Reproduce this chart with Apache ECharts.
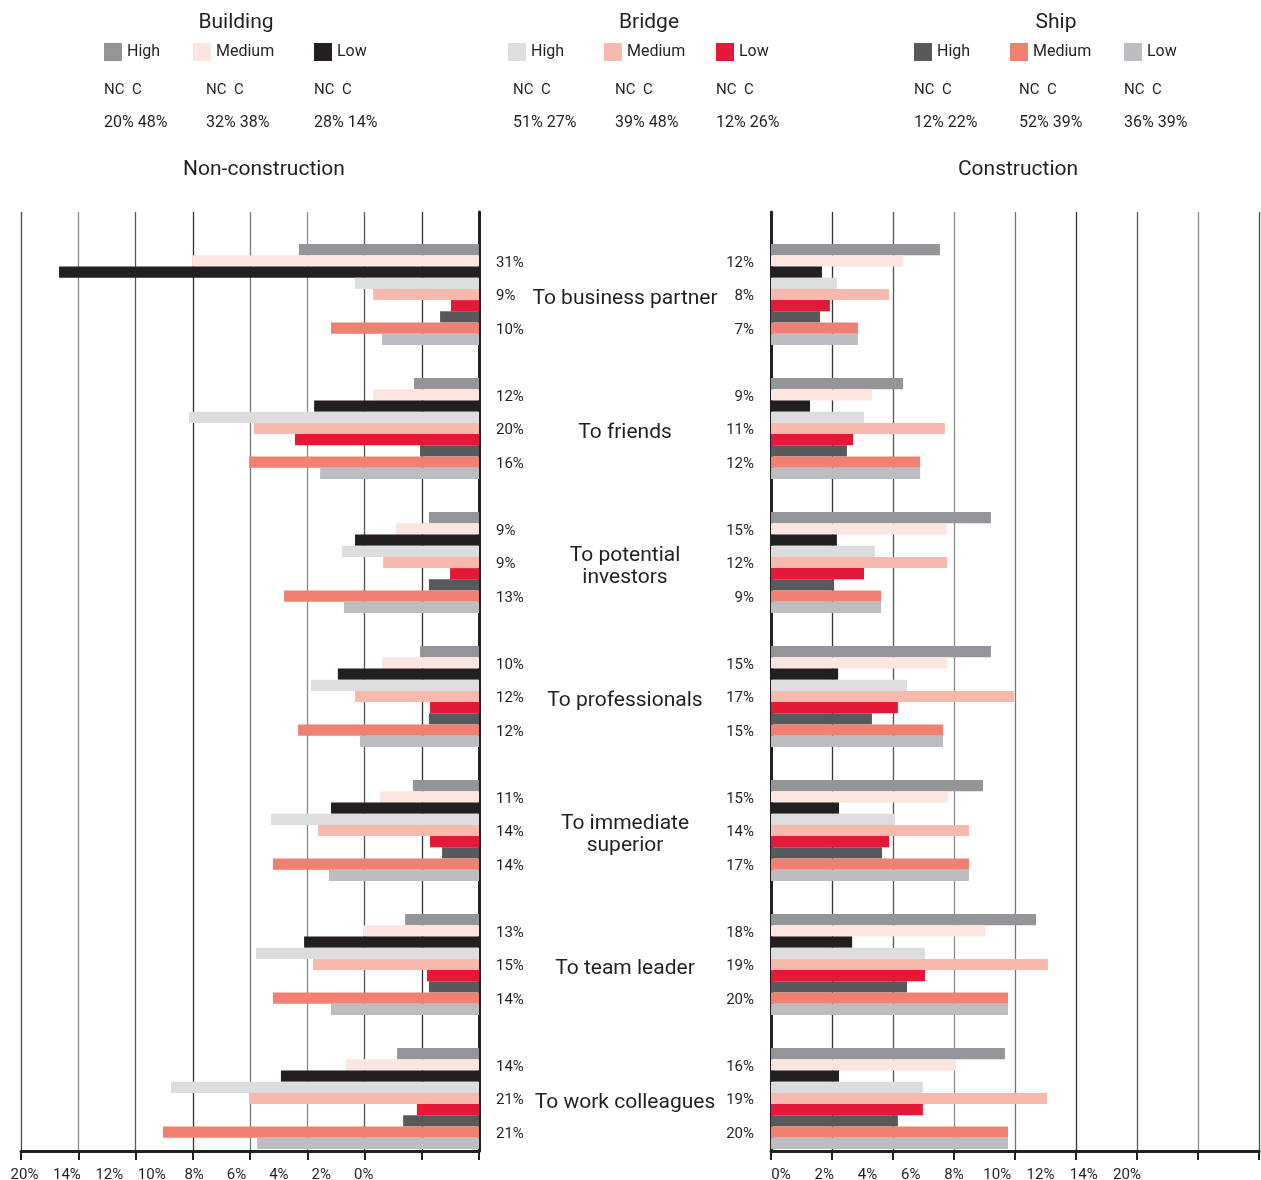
<!DOCTYPE html>
<html><head><meta charset="utf-8">
<script src="https://cdn.jsdelivr.net/npm/echarts@6/dist/echarts.min.js"></script>
<style>html,body{margin:0;padding:0;background:#fff}#c{width:1261px;height:1180px}</style>
</head><body><div id="c"></div>
<script>
// ---------- DATA ----------
const CATEGORIES = ['To business partner', 'To friends', 'To potential\ninvestors', 'To professionals',
  'To immediate\nsuperior', 'To team leader', 'To work colleagues'];
const VESSELS = ['Building', 'Bridge', 'Ship'];
const LEVELS = ['High', 'Medium', 'Low'];

// Non-construction (left panel)
const NC_BUILDING_HIGH   = [6.29, 2.27, 1.75, 2.06, 2.31, 2.58, 2.86];
const NC_BUILDING_MEDIUM = [10.0, 3.70, 2.90, 3.39, 3.46, 4.02, 4.65];
const NC_BUILDING_LOW    = [14.67, 5.76, 4.33, 4.93, 5.17, 6.11, 6.92];
const NC_BRIDGE_HIGH     = [4.33, 10.13, 4.79, 5.87, 7.27, 7.79, 10.76];
const NC_BRIDGE_MEDIUM   = [3.70, 7.86, 3.35, 4.33, 5.62, 5.80, 8.03];
const NC_BRIDGE_LOW      = [0.98, 6.43, 1.01, 1.71, 1.71, 1.82, 2.17];
const NC_SHIP_HIGH       = [1.36, 2.06, 1.75, 1.75, 1.29, 1.75, 2.65];
const NC_SHIP_MEDIUM     = [5.17, 8.03, 6.81, 6.32, 7.20, 7.20, 11.04];
const NC_SHIP_LOW        = [3.39, 5.55, 4.72, 4.16, 5.24, 5.17, 7.75];

// Construction (right panel)
const C_BUILDING_HIGH   = [5.54, 4.33, 7.21, 7.21, 6.95, 8.69, 7.67];
const C_BUILDING_MEDIUM = [4.33, 3.31, 5.77, 5.77, 5.80, 7.02, 6.07];
const C_BUILDING_LOW    = [1.67, 1.28, 2.16, 2.20, 2.23, 2.66, 2.23];
const C_BRIDGE_HIGH     = [2.16, 3.05, 3.41, 4.46, 4.07, 5.05, 4.98];
const C_BRIDGE_MEDIUM   = [3.87, 5.70, 5.77, 7.97, 6.49, 9.08, 9.05];
const C_BRIDGE_LOW      = [1.93, 2.69, 3.05, 4.16, 3.87, 5.05, 4.98];
const C_SHIP_HIGH       = [1.61, 2.49, 2.07, 3.31, 3.64, 4.46, 4.16];
const C_SHIP_MEDIUM     = [2.85, 4.89, 3.61, 5.64, 6.49, 7.77, 7.77];
const C_SHIP_LOW        = [2.85, 4.89, 3.61, 5.64, 6.49, 7.77, 7.77];

// Per-category totals printed beside the bars (Building / Bridge / Ship rows)
const NC_TOTAL_BUILDING = [31, 12, 9, 10, 11, 13, 14];
const NC_TOTAL_BRIDGE   = [9, 20, 9, 12, 14, 15, 21];
const NC_TOTAL_SHIP     = [10, 16, 13, 12, 14, 14, 21];
const C_TOTAL_BUILDING  = [12, 9, 15, 15, 15, 18, 16];
const C_TOTAL_BRIDGE    = [8, 11, 12, 17, 14, 19, 19];
const C_TOTAL_SHIP      = [7, 12, 9, 15, 17, 20, 20];

// Legend shares NC / C per vessel (High, Medium, Low)
const SHARE_NC_BUILDING = [20, 32, 28];
const SHARE_C_BUILDING  = [48, 38, 14];
const SHARE_NC_BRIDGE   = [51, 39, 12];
const SHARE_C_BRIDGE    = [27, 48, 26];
const SHARE_NC_SHIP     = [12, 52, 36];
const SHARE_C_SHIP      = [22, 39, 39];

// Axis tick labels (as printed)
const TICK_LABELS_NC = ['20%', '14%', '12%', '10%', '8%', '6%', '4%', '2%', '0%'];
const TICK_LABELS_C  = ['0%', '2%', '4%', '6%', '8%', '10%', '12%', '14%', '20%'];

// ---------- BUILD ----------
const NC_DATA = [NC_BUILDING_HIGH, NC_BUILDING_MEDIUM, NC_BUILDING_LOW, NC_BRIDGE_HIGH, NC_BRIDGE_MEDIUM, NC_BRIDGE_LOW, NC_SHIP_HIGH, NC_SHIP_MEDIUM, NC_SHIP_LOW];
const C_DATA = [C_BUILDING_HIGH, C_BUILDING_MEDIUM, C_BUILDING_LOW, C_BRIDGE_HIGH, C_BRIDGE_MEDIUM, C_BRIDGE_LOW, C_SHIP_HIGH, C_SHIP_MEDIUM, C_SHIP_LOW];
const NC_TOTALS = [NC_TOTAL_BUILDING, NC_TOTAL_BRIDGE, NC_TOTAL_SHIP];
const C_TOTALS = [C_TOTAL_BUILDING, C_TOTAL_BRIDGE, C_TOTAL_SHIP];
const SHARES_NC = [SHARE_NC_BUILDING, SHARE_NC_BRIDGE, SHARE_NC_SHIP];
const SHARES_C = [SHARE_C_BUILDING, SHARE_C_BRIDGE, SHARE_C_SHIP];

const COLORS = ['#939598', '#fce4df', '#231f20', '#dcddde', '#f7b9ab', '#e31937', '#58595b', '#ef8072', '#bcbdc0'];
const FONT = 'Roboto, "Liberation Sans", sans-serif';
const INK = '#231f20';

const GRID_TOP = 212, GRID_H = 939;
const BAR_TOP = 227.5, BAR_H = 938;
const L_LEFT = 21, L_W = 458, R_LEFT = 771, R_W = 488;

const frameX = (gi, inverse) => ({
  type: 'value', gridIndex: gi, min: 0, max: 16, interval: 2, inverse: inverse,
  axisLine: { show: true, lineStyle: { color: INK, width: 3 } },
  axisTick: { show: true, length: 9, lineStyle: { color: INK, width: 2 } },
  axisLabel: { show: false },
  splitLine: { show: true, lineStyle: { color: ['#4a4a4a', '#333', '#555', '#8a8a8a', '#777', '#333', '#555', '#8a8a8a', '#4a4a4a'], width: 1.3 } }
});

const series = [];
for (let i = 0; i < 9; i++) {
  const v = Math.floor(i / 3), l = i % 3;
  const name = VESSELS[v] + ' ' + LEVELS[l];
  series.push({
    type: 'bar', name: name, xAxisIndex: 1, yAxisIndex: 1, data: NC_DATA[i],
    itemStyle: { color: COLORS[i] }, barGap: '0%', barCategoryGap: '24.6%', silent: true,
    label: l === 1 ? { show: true, position: 'right', distance: 17, offset: [0, 2], color: INK, fontFamily: FONT, fontSize: 15,
      formatter: p => NC_TOTALS[v][p.dataIndex] + '%' } : { show: false }
  });
  series.push({
    type: 'bar', name: name, xAxisIndex: 3, yAxisIndex: 3, data: C_DATA[i],
    itemStyle: { color: COLORS[i] }, barGap: '0%', barCategoryGap: '24.6%', silent: true,
    label: l === 1 ? { show: true, position: 'left', distance: 17, offset: [0, 2], color: INK, fontFamily: FONT, fontSize: 15,
      formatter: p => C_TOTALS[v][p.dataIndex] + '%' } : { show: false }
  });
}

// Legends: one per item, positioned like the print layout
const LEG_X = [[104, 193, 314], [508, 604, 716], [914, 1010, 1124]];
const NCC_X = [[104, 206, 314], [513, 615, 716], [914, 1019, 1124]];
const TITLE_X = [236, 649, 1056];
const legends = [];
const graphics = [];
for (let v = 0; v < 3; v++) {
  graphics.push({ type: 'text', x: TITLE_X[v], y: 23, style: { text: VESSELS[v], font: '21px ' + FONT, fill: INK, textAlign: 'center', textVerticalAlign: 'middle' } });
  for (let l = 0; l < 3; l++) {
    legends.push({
      data: [VESSELS[v] + ' ' + LEVELS[l]], left: LEG_X[v][l], top: 43, padding: 0,
      icon: 'rect', itemWidth: 18, itemHeight: 18, selectedMode: false,
      formatter: n => n.split(' ')[1],
      textStyle: { fontFamily: FONT, fontSize: 16, color: INK }
    });
    graphics.push({ type: 'text', x: NCC_X[v][l], y: 90, style: { text: 'NC  C', font: '15px ' + FONT, fill: INK, textVerticalAlign: 'middle' } });
    graphics.push({ type: 'text', x: NCC_X[v][l], y: 123, style: { text: SHARES_NC[v][l] + '% ' + SHARES_C[v][l] + '%', font: '16px ' + FONT, fill: INK, textVerticalAlign: 'middle' } });
  }
}
graphics.push({ type: 'text', x: 264, y: 170, style: { text: 'Non-construction', font: '21px ' + FONT, fill: INK, textAlign: 'center', textVerticalAlign: 'middle' } });
graphics.push({ type: 'text', x: 1018, y: 170, style: { text: 'Construction', font: '21px ' + FONT, fill: INK, textAlign: 'center', textVerticalAlign: 'middle' } });

const option = {
  backgroundColor: '#fff',
  animation: false,
  textStyle: { fontFamily: FONT },
  legend: legends,
  graphic: graphics,
  grid: [
    { left: L_LEFT, top: GRID_TOP, width: L_W, height: GRID_H },
    { left: L_LEFT, top: BAR_TOP, width: L_W, height: BAR_H },
    { left: R_LEFT, top: GRID_TOP, width: R_W, height: GRID_H },
    { left: R_LEFT, top: BAR_TOP, width: R_W, height: BAR_H },
    { left: 3.3, top: 1157, width: 381.6, height: 1 },
    { left: 759.4, top: 1157, width: 389.2, height: 1 },
    { left: R_LEFT, top: BAR_TOP + 4, width: R_W, height: BAR_H }
  ],
  xAxis: [
    frameX(0, true),
    { type: 'value', gridIndex: 1, min: 0, max: 16, inverse: true, show: false },
    frameX(2, false),
    { type: 'value', gridIndex: 3, min: 0, max: 16, show: false },
    { type: 'category', gridIndex: 4, data: TICK_LABELS_NC, axisLine: { show: false }, axisTick: { show: false },
      axisLabel: { margin: 10, fontSize: 15, color: INK, fontFamily: FONT, interval: 0 } },
    { type: 'category', gridIndex: 5, data: TICK_LABELS_C, axisLine: { show: false }, axisTick: { show: false },
      axisLabel: { margin: 10, fontSize: 15, color: INK, fontFamily: FONT, interval: 0 } },
    { type: 'value', gridIndex: 6, show: false }
  ],
  yAxis: [
    { type: 'value', gridIndex: 0, position: 'right', axisLine: { show: true, lineStyle: { color: INK, width: 3 } },
      axisTick: { show: false }, axisLabel: { show: false }, splitLine: { show: false } },
    { type: 'category', gridIndex: 1, data: CATEGORIES, inverse: true, show: false },
    { type: 'value', gridIndex: 2, position: 'left', axisLine: { show: true, lineStyle: { color: INK, width: 3 } },
      axisTick: { show: false }, axisLabel: { show: false }, splitLine: { show: false } },
    { type: 'category', gridIndex: 3, data: CATEGORIES, inverse: true, show: false },
    { type: 'value', gridIndex: 4, show: false },
    { type: 'value', gridIndex: 5, show: false },
    { type: 'category', gridIndex: 6, data: CATEGORIES, inverse: true,
      axisLine: { show: false }, axisTick: { show: false }, splitLine: { show: false },
      axisLabel: { margin: 146, align: 'center', fontSize: 21, lineHeight: 22, color: INK, fontFamily: FONT, interval: 0 } }
  ],
  series: series
};

const chart = echarts.init(document.getElementById('c'), null, { renderer: 'canvas' });
chart.setOption(option);
</script>
</body></html>
